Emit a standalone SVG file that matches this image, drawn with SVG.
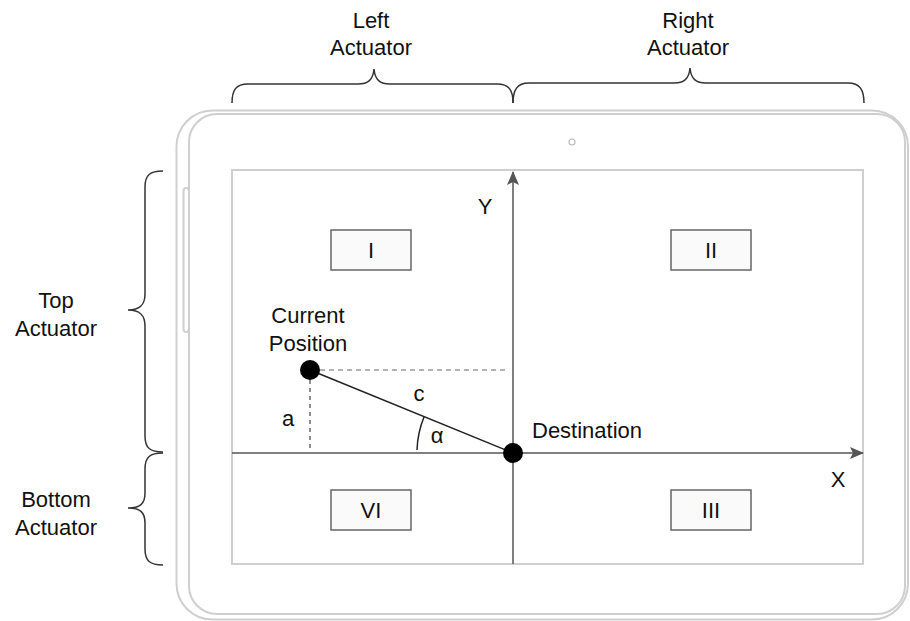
<svg xmlns="http://www.w3.org/2000/svg" width="910" height="621" viewBox="0 0 910 621">
  <defs>
    <style>
      .frame { fill: none; stroke: #cfcfcf; stroke-width: 2; }
      .brace { fill: none; stroke: #333; stroke-width: 1.5; }
      .axis { fill: none; stroke: #555; stroke-width: 1.5; }
      .lbl { font-family: "Liberation Sans", Arial, Helvetica, sans-serif; font-size: 22px; fill: #111; text-anchor: middle; }
      .quad rect { fill: #fafafa; stroke: #666; stroke-width: 1.5; }
      .dot { fill: #000; }
    </style>
    <marker id="arrow" viewBox="0 0 14 12" refX="13" refY="6" markerWidth="14" markerHeight="12" markerUnits="userSpaceOnUse" orient="auto">
      <path d="M0,0 L14,6 L0,12 L3,6 Z" fill="#555"/>
    </marker>
  </defs>

  <rect width="910" height="621" fill="#fff"/>

  <!-- tablet body -->
  <g id="tablet">
    <rect class="frame" x="176.5" y="110.5" width="731.5" height="509" rx="36"/>
    <rect class="frame" x="189" y="114" width="716" height="500" rx="28"/>
    <rect class="frame" x="183.5" y="188" width="5.5" height="144" rx="3" fill="#fff"/>
    <circle cx="572" cy="142" r="3" fill="none" stroke="#bbb" stroke-width="1.2"/>
    <rect class="frame" x="232" y="170" width="631" height="394"/>
  </g>

  <!-- actuator braces and labels -->
  <g id="left-actuator">
    <path class="brace" d="M232 103 C232 90 236 84 248 84 L358 84 C368 84 373 80 374 69 C375 80 380 84 390 84 L497 84 C509 84 513 90 513 103"/>
    <text class="lbl" x="371" y="28">Left</text>
    <text class="lbl" x="371" y="55">Actuator</text>
  </g>
  <g id="right-actuator">
    <path class="brace" d="M513 103 C513 90 517 83 529 83 L674 83 C684 83 689 79 690 68 C691 79 696 83 706 83 L848 83 C860 83 864 90 864 103"/>
    <text class="lbl" x="688" y="28">Right</text>
    <text class="lbl" x="688" y="55">Actuator</text>
  </g>
  <g id="top-actuator">
    <path class="brace" d="M163 171 C150 171 145 175 145 187 L145 294 C145 305 140 310 128 310 C140 310 145 315 145 326 L145 436 C145 448 150 452 163 452"/>
    <text class="lbl" x="56" y="308">Top</text>
    <text class="lbl" x="56" y="336">Actuator</text>
  </g>
  <g id="bottom-actuator">
    <path class="brace" d="M163 453 C150 453 145 457 145 469 L145 493 C145 504 140 508 128 508 C140 508 145 512 145 523 L145 549 C145 561 150 565 163 565"/>
    <text class="lbl" x="56" y="507">Bottom</text>
    <text class="lbl" x="56" y="535">Actuator</text>
  </g>

  <!-- quadrant labels -->
  <g id="quad-I" class="quad"><rect x="331" y="230" width="80" height="40"/><text class="lbl" x="371" y="258">I</text></g>
  <g id="quad-II" class="quad"><rect x="671" y="230" width="80" height="40"/><text class="lbl" x="711" y="258">II</text></g>
  <g id="quad-VI" class="quad"><rect x="331" y="490" width="80" height="40"/><text class="lbl" x="371" y="518">VI</text></g>
  <g id="quad-III" class="quad"><rect x="671" y="490" width="80" height="40"/><text class="lbl" x="711" y="518">III</text></g>

  <!-- axes, guides and the path to the destination -->
  <g id="connectors">
    <line class="axis" x1="513" y1="564" x2="513" y2="172" marker-end="url(#arrow)"/>
    <line class="axis" x1="232" y1="453" x2="863" y2="453" marker-end="url(#arrow)"/>
    <line x1="320" y1="370" x2="508" y2="370" stroke="#999" stroke-width="1.5" stroke-dasharray="5 4"/>
    <line x1="310" y1="380" x2="310" y2="449" stroke="#444" stroke-width="1.2" stroke-dasharray="4 4"/>
    <line x1="310" y1="370" x2="513" y2="453" stroke="#222" stroke-width="1.5"/>
    <path d="M424 417 A96 96 0 0 0 417 450" fill="none" stroke="#222" stroke-width="1.5"/>
  </g>

  <g id="axis-labels">
    <text class="lbl" x="485" y="214">Y</text>
    <text class="lbl" x="838" y="487">X</text>
    <text class="lbl" x="419" y="401">c</text>
    <text class="lbl" x="288" y="426">a</text>
    <text class="lbl" x="437" y="443">α</text>
  </g>

  <g id="current-position">
    <circle class="dot" cx="310" cy="370" r="10"/>
    <text class="lbl" x="308" y="323">Current</text>
    <text class="lbl" x="308" y="351">Position</text>
  </g>
  <g id="destination">
    <circle class="dot" cx="513" cy="453" r="10"/>
    <text class="lbl" x="532" y="438" text-anchor="start" style="text-anchor:start">Destination</text>
  </g>
</svg>
